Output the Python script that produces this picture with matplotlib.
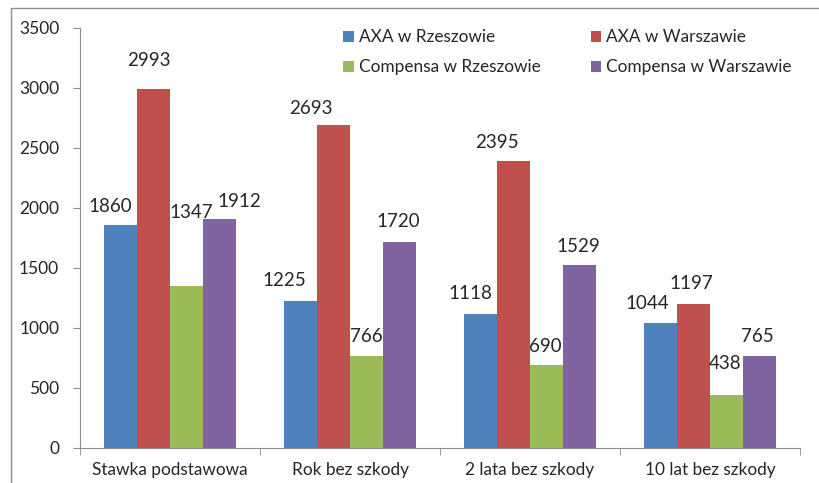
import matplotlib.pyplot as plt
from matplotlib.patches import Rectangle
import numpy as np

categories = ['Stawka podstawowa', 'Rok bez szkody', '2 lata bez szkody', '10 lat bez szkody']
series_names = ['AXA w Rzeszowie', 'AXA w Warszawie', 'Compensa w Rzeszowie', 'Compensa w Warszawie']
axa_rze = [1860, 1225, 1118, 1044]
axa_war = [2993, 2693, 2395, 1197]
comp_rze = [1347, 766, 690, 438]
comp_war = [1912, 1720, 1529, 765]
colors = ['#4F81BD', '#C0504D', '#9BBB59', '#8064A2']

# hand-placed label nudges from the original (pixels, relative to bar top)
label_nudge = [
    [(-10, 18), (-16, 20), (-10, 20), (-13, 19)],
    [(-5, 28), (-23, 16), (-17, 18), (-2, 21)],
    [(5, 74), (0, 20), (-1, 19), (-1, 32)],
    [(20, 17), (-1, 20), (-1, 18), (-2, 20)],
]

plt.rcParams['font.family'] = ['Lato', 'DejaVu Sans']

fig = plt.figure(figsize=(8.19, 4.83), dpi=100)
ax = fig.add_axes([80 / 819, 1 - 448 / 483, 720 / 819, 420 / 483])

# frame around the chart area
fig.patches.append(Rectangle((11 / 819, -0.05), 1.05, 1 - 8 / 483 + 0.05,
                             transform=fig.transFigure, fill=False,
                             edgecolor='#8c8c8c', linewidth=1))

x = np.arange(len(categories))
w = 0.183
bars = []
for i, vals in enumerate([axa_rze, axa_war, comp_rze, comp_war]):
    pos = x + (i - 1.5) * w
    b = ax.bar(pos, vals, w, color=colors[i], label=series_names[i])
    bars.append(b)
    for xi, v, (dx, dy) in zip(pos, vals, label_nudge[i]):
        ax.annotate(str(v), (xi, v), xytext=(dx, dy), textcoords='offset pixels',
                    ha='center', va='center', fontsize=13.5, color='#262626')

ax.set_xlim(-0.5, 3.5)
ax.set_ylim(0, 3500)
ax.set_yticks(range(0, 3501, 500))
ax.set_xticks(x)
ax.set_xticklabels(categories)
ax.set_xticks(np.arange(-0.5, 4, 1), minor=True)
ax.tick_params(axis='x', which='major', length=0, pad=10, labelsize=12.4, labelcolor='#262626')
ax.tick_params(axis='x', which='minor', length=5, color='#8c8c8c', direction='out')
ax.tick_params(axis='y', length=5, color='#8c8c8c', pad=10, labelsize=12.5, labelcolor='#262626')
for s in ['top', 'right']:
    ax.spines[s].set_visible(False)
for s in ['left', 'bottom']:
    ax.spines[s].set_color('#8c8c8c')

handles = [bars[0], bars[2], bars[1], bars[3]]
labels = [series_names[0], series_names[2], series_names[1], series_names[3]]
ax.legend(handles, labels, ncol=2, loc='upper left', bbox_to_anchor=(0.354, 1.017),
          frameon=False, fontsize=12.4, handlelength=0.6, handleheight=0.6,
          handletextpad=0.3, columnspacing=2.9, labelspacing=0.8, borderpad=0,
          labelcolor='#262626')

fig.savefig('out.png', dpi=100)
